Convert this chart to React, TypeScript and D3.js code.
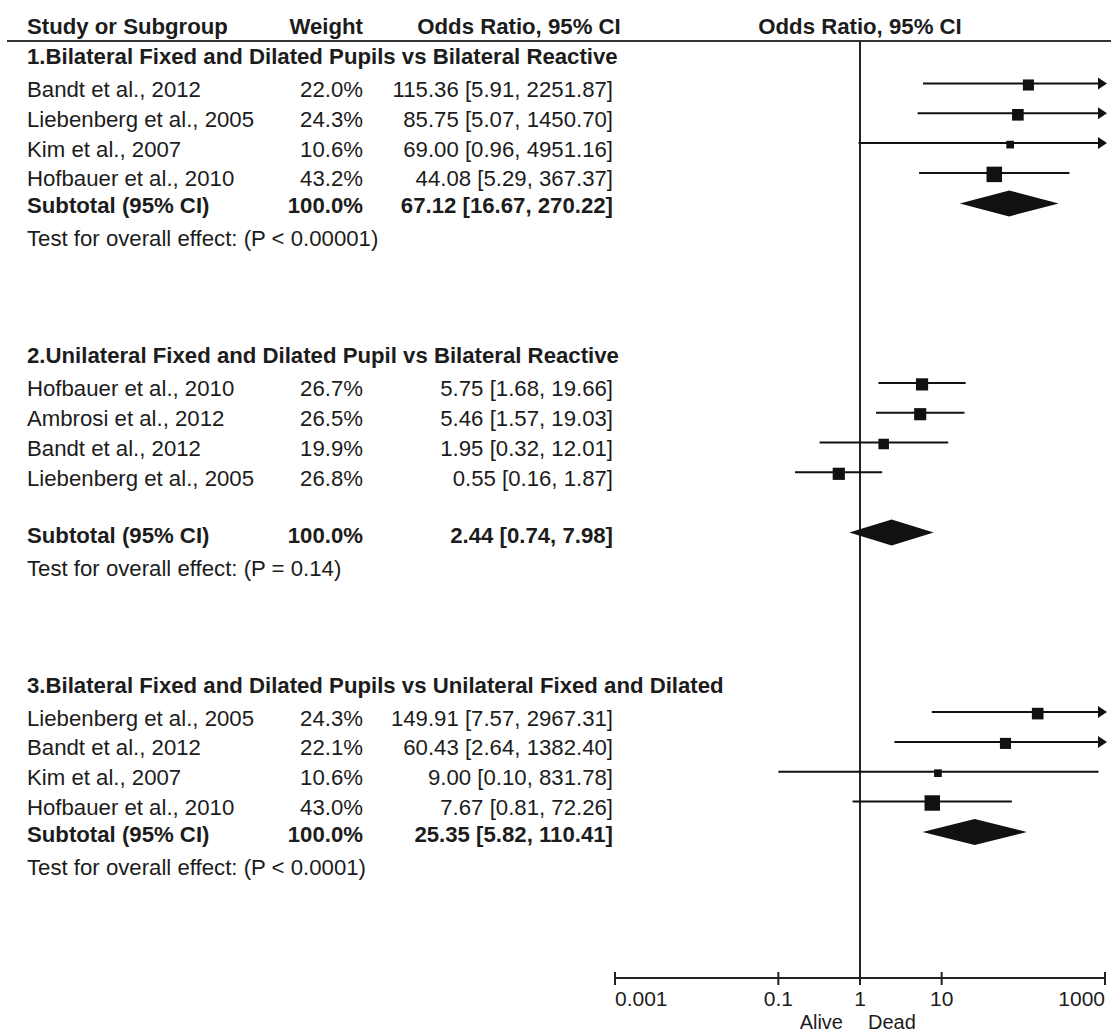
import React from "react";
import * as d3 from "d3";

// ---- data ----
const headerLabels = ["Study or Subgroup", "Weight", "Odds Ratio, 95% CI", "Odds Ratio, 95% CI"];

const groupTitles = [
  "1.Bilateral Fixed and Dilated Pupils vs Bilateral Reactive",
  "2.Unilateral Fixed and Dilated Pupil vs Bilateral Reactive",
  "3.Bilateral Fixed and Dilated Pupils vs Unilateral Fixed and Dilated",
];
const groupTests = [
  "Test for overall effect: (P < 0.00001)",
  "Test for overall effect: (P = 0.14)",
  "Test for overall effect: (P < 0.0001)",
];

const studyNames = [
  ["Bandt et al., 2012", "Liebenberg et al., 2005", "Kim et al., 2007", "Hofbauer et al., 2010"],
  ["Hofbauer et al., 2010", "Ambrosi et al., 2012", "Bandt et al., 2012", "Liebenberg et al., 2005"],
  ["Liebenberg et al., 2005", "Bandt et al., 2012", "Kim et al., 2007", "Hofbauer et al., 2010"],
];
const studyWeights = [
  [22.0, 24.3, 10.6, 43.2],
  [26.7, 26.5, 19.9, 26.8],
  [24.3, 22.1, 10.6, 43.0],
];
const studyOR = [
  [115.36, 85.75, 69.0, 44.08],
  [5.75, 5.46, 1.95, 0.55],
  [149.91, 60.43, 9.0, 7.67],
];
const studyLow = [
  [5.91, 5.07, 0.96, 5.29],
  [1.68, 1.57, 0.32, 0.16],
  [7.57, 2.64, 0.1, 0.81],
];
const studyHigh = [
  [2251.87, 1450.7, 4951.16, 367.37],
  [19.66, 19.03, 12.01, 1.87],
  [2967.31, 1382.4, 831.78, 72.26],
];

const subtotalLabel = "Subtotal (95% CI)";
const subtotalWeight = [100.0, 100.0, 100.0];
const subtotalOR = [67.12, 2.44, 25.35];
const subtotalLow = [16.67, 0.74, 5.82];
const subtotalHigh = [270.22, 7.98, 110.41];
// group 2 has an empty row before its subtotal
const blankBeforeSubtotal = [false, true, false];

const axisTicks = [0.001, 0.1, 1, 10, 1000];
const axisTickLabels = ["0.001", "0.1", "1", "10", "1000"];
const favourLabels = ["Alive", "Dead"];

// ---- layout ----
const W = 1111;
const H = 1034;
const FONT = "'Liberation Sans', Arial, Helvetica, sans-serif";
const TXT = "#1c1c1c";
const INK = "#111";
const FS = 22.2;

const xStudy = 27;
const xWeight = 363;
const xCI = 613;
const xCIHead = 519;
const headerY = 34;
const ruleY = 41;
const axisY = 978;

const firstTitleY = 64;
const titleGap = 33;
const rowStep = 29.8;
const subtotalGap = 27;
const testGap = 33;
const groupGap = 117;

type Row = {
  kind: "title" | "study" | "subtotal" | "test";
  y: number;
  g: number;
  i?: number;
};

function buildRows(): Row[] {
  const rows: Row[] = [];
  let y = firstTitleY;
  groupTitles.forEach((t, g) => {
    if (g > 0) y += groupGap;
    rows.push({ kind: "title", y, g });
    y += titleGap;
    studyNames[g].forEach((_, i) => {
      if (i > 0) y += rowStep;
      rows.push({ kind: "study", y, g, i });
    });
    y += subtotalGap + (blankBeforeSubtotal[g] ? rowStep : 0);
    rows.push({ kind: "subtotal", y, g });
    y += testGap;
    rows.push({ kind: "test", y, g });
  });
  return rows;
}

const fmtCI = (o: number, l: number, h: number) =>
  `${o.toFixed(2)} [${l.toFixed(2)}, ${h.toFixed(2)}]`;

export default function App() {
  const x = d3.scaleLog().domain([0.001, 1000]).range([615, 1105]);
  const maxW = d3.max(studyWeights.flat()) as number;
  const box = d3.scaleSqrt().domain([0, maxW]).range([0, 15.5]);
  const rows = buildRows();
  const [xMin, xMax] = x.range();
  const x1 = x(1);

  const txt = (
    s: string,
    px: number,
    py: number,
    anchor: "start" | "middle" | "end",
    bold = false,
    size = FS,
    key?: string
  ) => (
    <text
      key={key}
      x={px}
      y={py}
      textAnchor={anchor}
      fontFamily={FONT}
      fontSize={size}
      fontWeight={bold ? "bold" : "normal"}
      fill={TXT}
    >
      {s}
    </text>
  );

  const ciLine = (lo: number, hi: number, cy: number, key: string) => {
    const a = Math.max(lo, 0.001);
    const b = Math.min(hi, 1000);
    const xa = x(a);
    const xb = hi > 1000 ? xMax - 6 : x(b);
    return (
      <g key={key}>
        <line x1={xa} x2={xb} y1={cy} y2={cy} stroke={INK} strokeWidth={2} />
        {hi > 1000 && (
          <path
            d={`M${xMax - 7},${cy - 6}L${xMax + 2},${cy}L${xMax - 7},${cy + 6}Z`}
            fill={INK}
          />
        )}
        {lo < 0.001 && (
          <path
            d={`M${xMin + 7},${cy - 6}L${xMin - 2},${cy}L${xMin + 7},${cy + 6}Z`}
            fill={INK}
          />
        )}
      </g>
    );
  };

  return (
    <svg
      width={W}
      height={H}
      style={{ position: "absolute", left: 0, top: 0, background: "#fff" }}
    >
      <rect width={W} height={H} fill="#fff" />

      {/* headers */}
      {txt(headerLabels[0], xStudy, headerY, "start", true, FS, "h0")}
      {txt(headerLabels[1], xWeight, headerY, "end", true, FS, "h1")}
      {txt(headerLabels[2], xCIHead, headerY, "middle", true, FS, "h2")}
      {txt(headerLabels[3], x1, headerY, "middle", true, FS, "h3")}
      <line x1={7} x2={W} y1={ruleY} y2={ruleY} stroke="#333" strokeWidth={2} />

      {/* line of no effect */}
      <line x1={x1} x2={x1} y1={ruleY} y2={axisY} stroke="#222" strokeWidth={2} />

      {rows.map((r, k) => {
        const g = r.g;
        if (r.kind === "title") return txt(groupTitles[g], xStudy, r.y, "start", true, FS, `t${k}`);
        if (r.kind === "test") return txt(groupTests[g], xStudy, r.y, "start", false, FS, `s${k}`);
        if (r.kind === "study") {
          const i = r.i as number;
          const cy = r.y - 13.5;
          const s = box(studyWeights[g][i]);
          return (
            <g key={`r${k}`}>
              {txt(studyNames[g][i], xStudy, r.y, "start", false)}
              {txt(`${studyWeights[g][i].toFixed(1)}%`, xWeight, r.y, "end", false)}
              {txt(fmtCI(studyOR[g][i], studyLow[g][i], studyHigh[g][i]), xCI, r.y, "end", false)}
              {ciLine(studyLow[g][i], studyHigh[g][i], cy, "ci")}
              <rect
                x={x(studyOR[g][i]) - s / 2}
                y={cy + 1.5 - s / 2}
                width={s}
                height={s}
                fill={INK}
              />
            </g>
          );
        }
        // subtotal
        const cy = r.y - 10;
        const xl = x(subtotalLow[g]);
        const xr = x(subtotalHigh[g]);
        const xc = x(subtotalOR[g]);
        return (
          <g key={`r${k}`}>
            {txt(subtotalLabel, xStudy, r.y, "start", true)}
            {txt(`${subtotalWeight[g].toFixed(1)}%`, xWeight, r.y, "end", true)}
            {txt(fmtCI(subtotalOR[g], subtotalLow[g], subtotalHigh[g]), xCI, r.y, "end", true)}
            <path d={`M${xl},${cy}L${xc},${cy - 13}L${xr},${cy}L${xc},${cy + 13}Z`} fill={INK} />
          </g>
        );
      })}

      {/* axis */}
      <line x1={xMin} x2={xMax} y1={axisY} y2={axisY} stroke="#222" strokeWidth={2} />
      {axisTicks.map((t, i) => (
        <g key={`tk${i}`}>
          <line x1={x(t)} x2={x(t)} y1={axisY - 6} y2={axisY + 7} stroke="#222" strokeWidth={2} />
          {txt(
            axisTickLabels[i],
            x(t),
            1006,
            i === 0 ? "start" : i === axisTicks.length - 1 ? "end" : "middle",
            false,
            21
          )}
        </g>
      ))}
      {txt(favourLabels[0], x1 - 17, 1028.5, "end", false, 20, "fa")}
      {txt(favourLabels[1], x1 + 8, 1028.5, "start", false, 20, "fb")}
    </svg>
  );
}
